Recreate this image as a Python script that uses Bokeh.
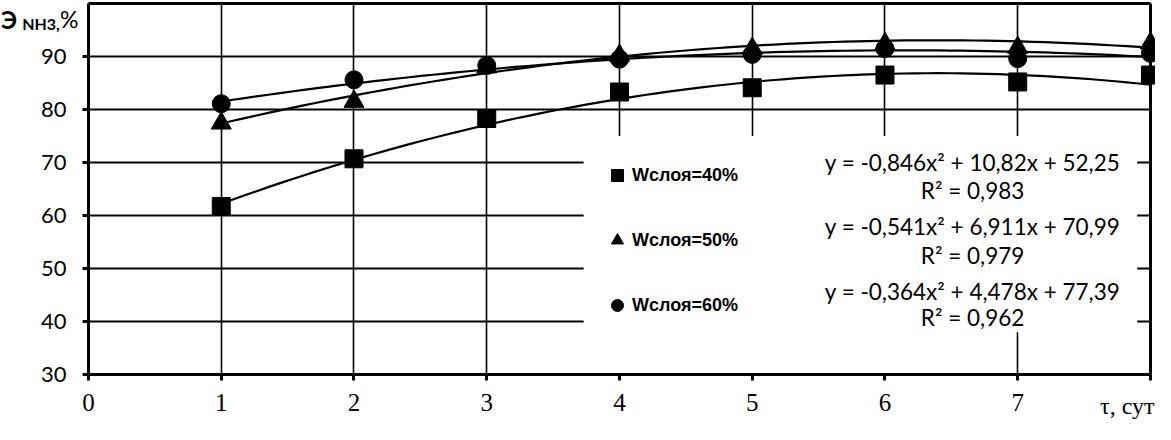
import numpy as np
from bokeh.plotting import figure
from bokeh.models import (FixedTicker, Label, Legend, LegendItem, BoxAnnotation, LinearAxis)
from bokeh.embed import file_html
from bokeh.resources import INLINE

# ---- data ----
days = [1, 2, 3, 4, 5, 6, 7, 8]
w40 = [61.7, 70.7, 78.3, 83.3, 84.1, 86.5, 85.2, 86.5]
w50 = [77.4, 81.5, 88.0, 90.2, 91.5, 92.4, 91.7, 92.5]
w60 = [81.1, 85.6, 88.3, 89.5, 90.4, 91.5, 89.6, 90.6]
series_names = ["Wслоя=40%", "Wслоя=50%", "Wслоя=60%"]
trend_coefs = [(-0.846, 10.82, 52.25), (-0.541, 6.911, 70.99), (-0.364, 4.478, 77.39)]
eq_texts = ["y = -0,846x² + 10,82x + 52,25", "R² = 0,983",
            "y = -0,541x² + 6,911x + 70,99", "R² = 0,979",
            "y = -0,364x² + 4,478x + 77,39", "R² = 0,962"]
x_ticks = [0, 1, 2, 3, 4, 5, 6, 7, 8]
y_ticks = [30, 40, 50, 60, 70, 80, 90]
x_title = "τ, сут"
y_title = ["Э", "NH3,", "%"]

X0, X1, Y0, Y1 = 0, 8, 30, 100   # plotting area limits

# the frame fills the whole figure; axes are pinned with fixed_location
p = figure(width=1155, height=424, x_range=(-0.663, 8.038), y_range=(20.566, 100.566),
           output_backend="svg", toolbar_location=None,
           min_border_left=0, min_border_right=0, min_border_top=0, min_border_bottom=0)
p.background_fill_color = "white"
p.border_fill_color = "white"
p.outline_line_color = None

# grids
p.xgrid.ticker = FixedTicker(ticks=[1, 2, 3, 4, 5, 6, 7])
p.ygrid.ticker = FixedTicker(ticks=[40, 50, 60, 70, 80, 90])
for g in (p.xgrid, p.ygrid):
    g.grid_line_color = "black"
p.xgrid.grid_line_width = 1.6
p.ygrid.grid_line_width = 2.2
if "cross_bounds" in p.xgrid[0].properties():
    p.xgrid.cross_bounds = (Y0, Y1)
    p.ygrid.cross_bounds = (X0, X1)

# white masks (under the glyphs) outside plot area and behind legend / equations
def mask(left, right, bottom, top):
    p.add_layout(BoxAnnotation(left=left, right=right, bottom=bottom, top=top,
                               fill_color="white", fill_alpha=1, line_alpha=0,
                               level="underlay"))
mask(-2, X0, 0, 120)
mask(-2, 10, 0, Y0)
mask(-2, 10, Y1, 120)
mask(X1, 10, 0, 120)
mask(3.73, 6.79, Y0 + 0.3, 75.0)
mask(6.79, 7.90, 37.96, 75.0)

# axes
p.xaxis.fixed_location = Y0
p.yaxis.fixed_location = X0
p.xaxis.bounds = (X0, X1)
p.yaxis.bounds = (Y0, Y1)
p.xaxis.ticker = FixedTicker(ticks=x_ticks)
p.yaxis.ticker = FixedTicker(ticks=y_ticks)
p.xaxis.major_label_overrides = {8: ""}
for ax in (p.xaxis, p.yaxis):
    ax.axis_line_width = 3
    ax.axis_line_color = "black"
    ax.major_tick_line_width = 3
    ax.major_tick_in = 0
    ax.major_tick_out = 6
    ax.minor_tick_line_color = None
    ax.major_label_text_color = "black"
p.xaxis.major_label_text_font = "Liberation Serif"
p.xaxis.major_label_text_font_size = "25px"
p.xaxis.major_label_standoff = 14
p.yaxis.major_label_text_font = "Lato"
p.yaxis.major_label_text_font_size = "22px"
p.yaxis.major_label_standoff = 16

# top and right border lines as bare axes
top_ax = LinearAxis(fixed_location=Y1, bounds=(X0, X1), ticker=FixedTicker(ticks=[]),
                    axis_line_width=3, axis_line_color="black",
                    major_tick_line_color=None, minor_tick_line_color=None,
                    major_label_text_alpha=0)
right_ax = LinearAxis(fixed_location=X1, bounds=(Y0, Y1), ticker=FixedTicker(ticks=[]),
                      axis_line_width=3, axis_line_color="black",
                      major_tick_line_color=None, minor_tick_line_color=None,
                      major_label_text_alpha=0)
p.add_layout(top_ax, "above")
p.add_layout(right_ax, "right")

# trendlines
xs = np.linspace(1, 8, 80)
for a, b, c in trend_coefs:
    p.line(xs, a * xs**2 + b * xs + c, line_color="black", line_width=2.2)

# points
r1 = p.scatter(days, w40, marker="square", size=18, color="black")
r2 = p.scatter(days, w50, marker="triangle", size=20, color="black")
r3 = p.scatter(days, w60, marker="circle", size=18, color="black")

legend = Legend(items=[LegendItem(label=series_names[0], renderers=[r1]),
                       LegendItem(label=series_names[1], renderers=[r2]),
                       LegendItem(label=series_names[2], renderers=[r3])],
                location=(602, 104), orientation="vertical",
                glyph_width=30, glyph_height=30, label_standoff=-6,
                label_height=30, spacing=35, padding=0, margin=0,
                background_fill_alpha=0, border_line_alpha=0,
                label_text_font="Liberation Sans", label_text_font_style="bold",
                label_text_font_size="18px", label_text_color="black")
p.add_layout(legend, "center")

# equations
eq_y = [70.0, 64.81, 57.96, 52.41, 45.74, 40.74]
for t, yy in zip(eq_texts, eq_y):
    p.add_layout(Label(x=6.66, y=yy, text=t, text_align="center", text_baseline="middle",
                       text_font="Lato", text_font_size="22.5px", text_color="black"))

# axis titles
p.add_layout(Label(x=-0.66, y=97.0, text=y_title[0], text_align="left",
                   text_baseline="alphabetic", text_font="Lato", text_font_style="bold",
                   text_font_size="24px", text_color="black"))
p.add_layout(Label(x=-0.50, y=96.3, text=y_title[1], text_align="left",
                   text_baseline="alphabetic", text_font="Lato", text_font_style="bold",
                   text_font_size="16px", text_color="black"))
p.add_layout(Label(x=-0.215, y=97.0, text=y_title[2], text_align="left",
                   text_baseline="alphabetic", text_font="Lato",
                   text_font_size="23px", text_color="black"))
p.add_layout(Label(x=X1, y=Y0, x_offset=4, y_offset=-32, text=x_title, text_align="right",
                   text_baseline="middle", text_font="Liberation Serif",
                   text_font_size="24px", text_color="black"))

open("out.html", "w").write(file_html(p, INLINE))
